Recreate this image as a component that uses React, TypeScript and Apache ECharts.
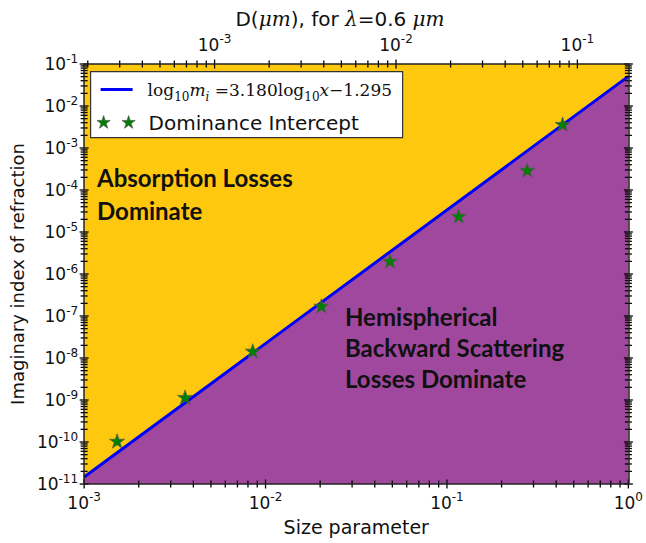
import React, { useEffect, useRef } from "react";
import * as echarts from "echarts";

// Physical constants / ranges
const WAVELENGTH_UM = 0.6;
const SIZE_MIN = 1e-3;
const SIZE_MAX = 1;
const INDEX_MIN = 1e-11;
const INDEX_MAX = 1e-1;

// Linear fit in log-log space: log10(m_i) = slope * log10(x) + intercept
const FIT_SLOPE = 3.18;
const FIT_INTERCEPT = -1.295;

// Dominance intercept points (size parameter, imaginary index)
const interceptSize = [0.00152, 0.0036, 0.0085, 0.0203, 0.0485, 0.116, 0.277, 0.434];
const interceptIndex = [1.06e-10, 1.17e-9, 1.48e-8, 1.74e-7, 2.05e-6, 2.4e-5, 3.0e-4, 3.7e-3];

// Decades used for the tick marks and labels of each axis
const sizeDecades = [-3, -2, -1, 0];
const indexDecades = [-11, -10, -9, -8, -7, -6, -5, -4, -3, -2, -1];
const diameterDecades = [-4, -3, -2, -1];
const minorSteps = [2, 3, 4, 5, 6, 7, 8, 9];

const D_MIN = (SIZE_MIN * WAVELENGTH_UM) / Math.PI;
const D_MAX = (SIZE_MAX * WAVELENGTH_UM) / Math.PI;

const YELLOW = "#FEC80E";
const PURPLE = "#A0489E";
const BLUE = "#0000FF";
const GREEN = "#008000";
const INK = "#111111";

function inRange(v: number, lo: number, hi: number) {
  return v >= lo * (1 - 1e-9) && v <= hi * (1 + 1e-9);
}

function tickValues(decades: number[], lo: number, hi: number) {
  const out: [number, number][] = [];
  decades.forEach((d) => {
    const base = Math.pow(10, d);
    if (inRange(base, lo, hi)) out.push([base, 1]);
    minorSteps.forEach((k) => {
      const v = k * base;
      if (inRange(v, lo, hi)) out.push([v, 0]);
    });
  });
  return out;
}

function decadeValues(decades: number[], lo: number, hi: number) {
  return decades.map((d) => Math.pow(10, d)).filter((v) => inRange(v, lo, hi));
}

function fitValue(x: number) {
  return Math.pow(10, FIT_SLOPE * Math.log10(x) + FIT_INTERCEPT);
}

function starPoints(cx: number, cy: number, r: number) {
  const pts: number[][] = [];
  const inner = r * 0.382;
  for (let i = 0; i < 10; i++) {
    const rad = i % 2 === 0 ? r : inner;
    const a = -Math.PI / 2 + (i * Math.PI) / 5;
    pts.push([cx + rad * Math.cos(a), cy + rad * Math.sin(a)]);
  }
  return pts;
}

const starPath =
  "path://" +
  starPoints(10, 10, 10)
    .map((p, i) => (i === 0 ? "M" : "L") + p[0].toFixed(3) + " " + p[1].toFixed(3))
    .join(" ") +
  " Z";

function powerLabel(v: number) {
  const n = Math.round(Math.log10(v));
  return "{b|10}{e|" + n + "}";
}

const labelRich = {
  b: { fontFamily: "DejaVu Sans", fontSize: 17, lineHeight: 23, color: INK, verticalAlign: "middle" },
  e: { fontFamily: "DejaVu Sans", fontSize: 12, lineHeight: 11, color: INK, verticalAlign: "top" },
};

function tickSeries(
  data: [number, number, number][],
  dir: "x" | "y",
  xAxisIndex: number,
  yAxisIndex: number
) {
  return {
    type: "custom",
    xAxisIndex,
    yAxisIndex,
    z: 8,
    silent: true,
    clip: false,
    data,
    renderItem: (_params: any, api: any) => {
      const p = api.coord([api.value(0), api.value(1)]);
      const len = api.value(2) === 1 ? 4.5 : 3.5;
      const shape =
        dir === "x"
          ? { x1: p[0], y1: p[1] - len, x2: p[0], y2: p[1] + len }
          : { x1: p[0] - len, y1: p[1], x2: p[0] + len, y2: p[1] };
      return { type: "line", shape, style: { stroke: "#000", lineWidth: 1.3 } };
    },
  };
}

export default function App() {
  const ref = useRef<HTMLDivElement>(null);

  useEffect(() => {
    if (!ref.current) return;
    const chart = echarts.init(ref.current, undefined, { renderer: "svg" });

    const sizeTicks = tickValues(sizeDecades, SIZE_MIN, SIZE_MAX);
    const indexTicks = tickValues(indexDecades, INDEX_MIN, INDEX_MAX);
    const diameterTicks = tickValues(diameterDecades, D_MIN, D_MAX);

    const fitLine = [
      [SIZE_MIN, fitValue(SIZE_MIN)],
      [SIZE_MAX, fitValue(SIZE_MAX)],
    ];
    const intercepts = interceptSize.map((x, i) => [x, interceptIndex[i]]);

    const axisLine = { show: true, lineStyle: { color: "#222", width: 1.5 } };

    const option: any = {
      animation: false,
      backgroundColor: "#ffffff",
      grid: {
        left: 82,
        right: 16,
        top: 64,
        bottom: 59,
        show: true,
        backgroundColor: YELLOW,
        borderWidth: 0,
      },
      xAxis: [
        {
          type: "log",
          logBase: 10,
          min: SIZE_MIN,
          max: SIZE_MAX,
          position: "bottom",
          z: 10,
          axisLine,
          axisTick: { show: false },
          splitLine: { show: false },
          axisLabel: {
            margin: 7,
            customValues: decadeValues(sizeDecades, SIZE_MIN, SIZE_MAX),
            formatter: powerLabel,
            rich: labelRich,
          },
          name: "Size parameter",
          nameLocation: "middle",
          nameGap: 33,
          nameTextStyle: { fontFamily: "DejaVu Sans", fontSize: 19, color: INK },
        },
        {
          type: "log",
          logBase: 10,
          min: D_MIN,
          max: D_MAX,
          position: "top",
          z: 10,
          axisLine,
          axisTick: { show: false },
          splitLine: { show: false },
          axisLabel: {
            margin: 8,
            customValues: decadeValues(diameterDecades, D_MIN, D_MAX),
            formatter: powerLabel,
            rich: labelRich,
          },
        },
      ],
      yAxis: [
        {
          type: "log",
          logBase: 10,
          min: INDEX_MIN,
          max: INDEX_MAX,
          position: "left",
          z: 10,
          axisLine,
          axisTick: { show: false },
          splitLine: { show: false },
          axisLabel: {
            margin: 6,
            customValues: decadeValues(indexDecades, INDEX_MIN, INDEX_MAX),
            formatter: powerLabel,
            rich: labelRich,
          },
          name: "Imaginary index of refraction",
          nameLocation: "middle",
          nameGap: 46,
          nameTextStyle: { fontFamily: "DejaVu Sans", fontSize: 18, color: INK },
        },
        {
          type: "log",
          logBase: 10,
          min: INDEX_MIN,
          max: INDEX_MAX,
          position: "right",
          z: 10,
          axisLine,
          axisTick: { show: false },
          splitLine: { show: false },
          axisLabel: { show: false },
        },
      ],
      series: [
        {
          type: "line",
          name: "fit",
          data: fitLine,
          xAxisIndex: 0,
          yAxisIndex: 0,
          showSymbol: false,
          symbol: "none",
          z: 2,
          lineStyle: { color: BLUE, width: 3 },
          areaStyle: { color: PURPLE, opacity: 1, origin: "start" },
        },
        {
          type: "scatter",
          name: "Dominance Intercept",
          data: intercepts,
          xAxisIndex: 0,
          yAxisIndex: 0,
          symbol: starPath,
          symbolKeepAspect: true,
          symbolSize: 15,
          z: 4,
          itemStyle: { color: GREEN, borderColor: "#555", borderWidth: 0.7, opacity: 1 },
        },
        tickSeries(sizeTicks.map(([v, m]) => [v, INDEX_MIN, m]), "x", 0, 0),
        tickSeries(diameterTicks.map(([v, m]) => [v, INDEX_MAX, m]), "x", 1, 0),
        tickSeries(indexTicks.map(([v, m]) => [SIZE_MIN, v, m]), "y", 0, 0),
        tickSeries(indexTicks.map(([v, m]) => [SIZE_MAX, v, m]), "y", 0, 0),
      ],
      graphic: [
        {
          type: "text",
          x: 340,
          y: 19,
          z: 50,
          style: {
            text: "{t|D(}{m|μm}{t|), for }{m|λ}{t|=0.6 }{m|μm}",
            align: "center",
            verticalAlign: "middle",
            rich: {
              t: { fontFamily: "DejaVu Sans", fontSize: 20, fill: INK },
              m: { fontFamily: "DejaVu Serif", fontStyle: "italic", fontSize: 20, fill: INK },
            },
          },
        },
        {
          type: "group",
          left: 90,
          top: 71,
          z: 100,
          children: [
            {
              type: "rect",
              shape: { x: 0, y: 0, width: 312, height: 66 },
              style: { fill: "#ffffff", stroke: "#333", lineWidth: 1.2 },
            },
            {
              type: "line",
              shape: { x1: 10, y1: 18, x2: 42, y2: 18 },
              style: { stroke: BLUE, lineWidth: 3 },
            },
            {
              type: "text",
              x: 57,
              y: 18,
              style: {
                text:
                  "{n|log}{s|10}{i|m}{si|i}{n| =3.180log}{s|10}{i|x}{n|−1.295}",
                verticalAlign: "middle",
                rich: {
                  n: { fontFamily: "DejaVu Serif", fontSize: 17, lineHeight: 26, fill: INK },
                  i: { fontFamily: "DejaVu Serif", fontStyle: "italic", fontSize: 17, lineHeight: 26, fill: INK },
                  s: { fontFamily: "DejaVu Serif", fontSize: 12, lineHeight: 13, verticalAlign: "bottom", fill: INK },
                  si: { fontFamily: "DejaVu Serif", fontStyle: "italic", fontSize: 12, lineHeight: 13, verticalAlign: "bottom", fill: INK },
                },
              },
            },
            {
              type: "polygon",
              shape: { points: starPoints(13, 51, 7) },
              style: { fill: GREEN, stroke: "#555", lineWidth: 0.7 },
            },
            {
              type: "polygon",
              shape: { points: starPoints(38, 51, 7) },
              style: { fill: GREEN, stroke: "#555", lineWidth: 0.7 },
            },
            {
              type: "text",
              x: 58,
              y: 51,
              style: {
                text: "Dominance Intercept",
                fontFamily: "DejaVu Sans",
                fontSize: 20,
                fill: INK,
                verticalAlign: "middle",
              },
            },
          ],
        },
        {
          type: "text",
          left: 97,
          top: 161,
          z: 50,
          style: {
            text: "Absorption Losses\nDominate",
            fontFamily: "Lato",
            fontWeight: "bold",
            fontSize: 24,
            lineHeight: 33,
            fill: INK,
          },
        },
        {
          type: "text",
          left: 345,
          top: 301,
          z: 50,
          style: {
            text: "Hemispherical\nBackward Scattering\nLosses Dominate",
            fontFamily: "Lato",
            fontWeight: "bold",
            fontSize: 24,
            lineHeight: 31,
            fill: INK,
          },
        },
      ],
    };

    chart.setOption(option);
    return () => chart.dispose();
  }, []);

  return (
    <div
      ref={ref}
      style={{ position: "absolute", left: 0, top: 0, width: 646, height: 543, background: "#fff" }}
    />
  );
}
